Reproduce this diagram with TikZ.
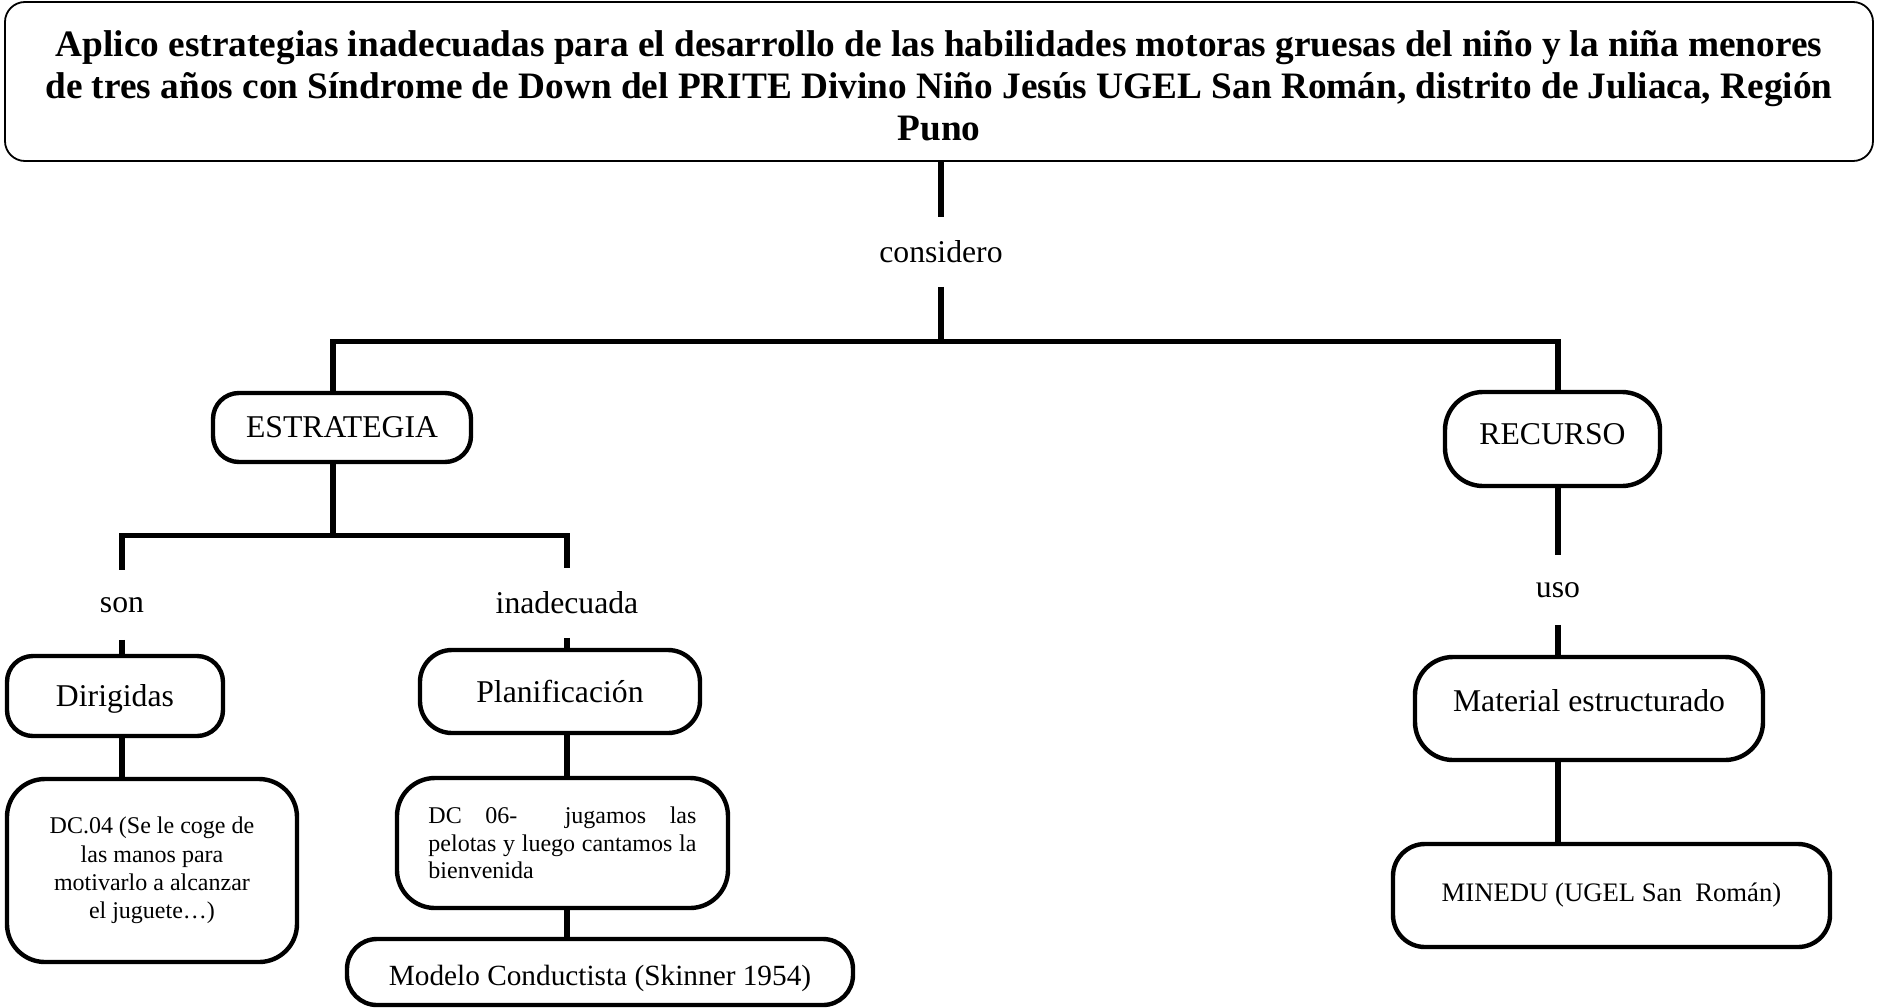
\documentclass[tikz,border=0pt]{standalone}
\usepackage{fontspec}
\setmainfont{Liberation Serif}
\usepackage{tikz}
\usetikzlibrary{positioning}
\tikzstyle{titlebox} = [rectangle, rounded corners=10pt, minimum width=934pt, minimum height=79.5pt, align=center, draw=black, line width=0.9pt, font=\fontsize{18.65}{21}\selectfont\bfseries]
\tikzstyle{concept} = [rectangle, rounded corners=13pt, text centered, draw=black, line width=2.2pt, font=\fontsize{15.85}{18}\selectfont]
\tikzstyle{roundconcept} = [concept, rounded corners=19pt]
\tikzstyle{detail} = [roundconcept, font=\fontsize{12}{13.7}\selectfont]
\tikzstyle{linkword} = [rectangle, minimum height=34.5pt, inner sep=0pt, font=\fontsize{15.85}{18}\selectfont]
\tikzstyle{link} = [line width=2.7pt]

\begin{document}
\begin{tikzpicture}[node distance=80pt]
\useasboundingbox (-469.5pt,40.75pt) rectangle (469pt,-462.75pt);
\node (t) [titlebox, text height=59.7pt] {Aplico estrategias inadecuadas para el desarrollo de las habilidades motoras gruesas del niño y la niña menores\\ de tres años con Síndrome de Down del PRITE Divino Niño Jesús UGEL San Román, distrito de Juliaca, Región\\ Puno};
\node (cons) [linkword, below of=t, xshift=1pt, yshift=-5.25pt] {considero};
\node (estr) [concept, minimum width=129pt, minimum height=34.5pt, below of=cons, xshift=-299.5pt, yshift=-7.75pt] {ESTRATEGIA};
\node (recu) [roundconcept, minimum width=107.5pt, minimum height=47pt, text depth=4.8pt, below of=cons, xshift=305.75pt, yshift=-13.5pt] {RECURSO};
\node (son) [linkword, below of=estr, xshift=-110pt, yshift=-8.75pt] {son};
\node (inad) [linkword, below of=estr, xshift=112.5pt, yshift=-7.75pt] {inadecuada};
\node (diri) [concept, minimum width=108pt, minimum height=40pt, text height=14.4pt, below of=son, xshift=-3.5pt, yshift=34.5pt] {Dirigidas};
\node (plan) [concept, rounded corners=16pt, minimum width=140pt, minimum height=41.5pt, below of=inad, xshift=-3.5pt, yshift=35.75pt] {Planificación};
\node (dc04) [detail, font=\fontsize{12}{14.2}\selectfont, minimum width=145pt, minimum height=91.5pt, align=center, below of=diri, xshift=18.5pt, yshift=-7.25pt] {DC.04 (Se le coge de\\ las manos para\\ motivarlo a alcanzar\\ el juguete…)};
\node (dc06) [detail, minimum width=165.5pt, minimum height=65pt, text width=134pt, align=justify, below of=plan, xshift=1.25pt, yshift=4.25pt] {DC 06-\ \ jugamos las\linebreak pelotas y luego cantamos la\linebreak bienvenida};
\node (mode) [concept, rounded corners=15pt, font=\fontsize{14.65}{17}\selectfont, minimum width=253pt, minimum height=33pt, text height=17pt, below of=dc06, xshift=18.75pt, yshift=15.5pt] {Modelo Conductista (Skinner 1954)};
\node (uso) [linkword, below of=recu, xshift=2.75pt, yshift=4.5pt] {uso};
\node (mate) [roundconcept, minimum width=174pt, minimum height=51.5pt, text depth=8.4pt, below of=uso, xshift=15.5pt, yshift=20.75pt] {Material estructurado};
\node (mine) [roundconcept, rounded corners=16pt, font=\fontsize{13.35}{16}\selectfont, minimum width=218.5pt, minimum height=51.5pt, below of=mate, xshift=11.25pt, yshift=-13.5pt] {MINEDU (UGEL San\ \ Román)};
\draw [link] (t.south -| cons) -- (cons.north);
\draw [link] (cons.south) -- ++(0,-27.25pt) coordinate (fork1) -| ([xshift=-4.5pt]estr.north);
\draw [link] (fork1) -| ([xshift=2.75pt]recu.north);
\draw [link] ([xshift=-4.5pt]estr.south) -- ++(0,-35.5pt) coordinate (fork2) -| (son.north);
\draw [link] (fork2) -| (inad.north);
\draw [link] (son.south) -- (son.south |- diri.north);
\draw [link] (diri.south -| son) -- (dc04.north -| son);
\draw [link] (inad.south) -- (inad.south |- plan.north);
\draw [link] (plan.south -| inad) -- (dc06.north -| inad);
\draw [link] (dc06.south -| inad) -- (mode.north -| inad);
\draw [link] (recu.south -| uso) -- (uso.north);
\draw [link] (uso.south) -- (uso.south |- mate.north);
\draw [link] (mate.south -| uso) -- (mine.north -| uso);
\end{tikzpicture}
\end{document}
